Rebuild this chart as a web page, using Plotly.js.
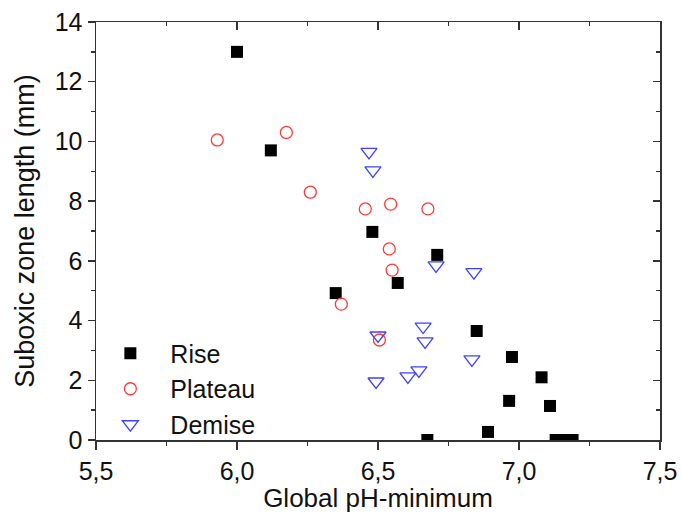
<!DOCTYPE html>
<html>
<head>
<meta charset="utf-8">
<script src="https://cdn.plot.ly/plotly-3.0.1.min.js"></script>
<style>html,body{margin:0;padding:0;background:#fff;}#chart{width:681px;height:513px;}</style>
</head>
<body>
<div id="chart"></div>
<script>
// Rise series
const riseX = [6.00, 6.12, 6.48, 6.71, 6.57, 6.35, 6.85, 6.975, 7.08, 6.965, 7.11, 6.89, 6.675, 7.13, 7.15, 7.17, 7.19];
const riseY = [13.0, 9.7, 6.97, 6.2, 5.26, 4.92, 3.65, 2.78, 2.1, 1.31, 1.14, 0.27, 0.0, 0.0, 0.0, 0.0, 0.0];
// Plateau series
const plateauX = [5.93, 6.175, 6.26, 6.455, 6.545, 6.677, 6.54, 6.55, 6.37, 6.505];
const plateauY = [10.05, 10.3, 8.3, 7.74, 7.9, 7.74, 6.4, 5.69, 4.55, 3.35];
// Demise series
const demiseX = [6.468, 6.482, 6.706, 6.84, 6.66, 6.50, 6.667, 6.833, 6.645, 6.606, 6.493];
const demiseY = [9.65, 9.03, 5.85, 5.62, 3.8, 3.5, 3.3, 2.7, 2.33, 2.13, 1.96];
// Axis ticks
const xTicks = [5.5, 6.0, 6.5, 7.0, 7.5];
const yTicks = [0, 2, 4, 6, 8, 10, 12, 14];

const FONT = 'Liberation Sans, Arial, sans-serif';
const AX = '#333333';

const traces = [
  {x: riseX, y: riseY, name: 'Rise', type: 'scatter', mode: 'markers',
   marker: {symbol: 'square', size: 12, color: '#000000', line: {width: 0}}},
  {x: plateauX, y: plateauY, name: 'Plateau', type: 'scatter', mode: 'markers',
   marker: {symbol: 'circle-open', size: 12, color: '#ff3a3a', line: {width: 1.3, color: '#ff3a3a'}}},
  {x: demiseX, y: demiseY, name: 'Demise', type: 'scatter', mode: 'markers',
   marker: {symbol: 'triangle-down-open', size: 14, color: '#4040ff', line: {width: 1.3, color: '#4040ff'}}},
  {x: [], y: [], xaxis: 'x2', yaxis: 'y2', type: 'scatter', mode: 'markers', showlegend: false, hoverinfo: 'skip'}
];

const layout = {
  width: 681, height: 513,
  margin: {l: 96, r: 21, t: 22, b: 73},
  paper_bgcolor: '#ffffff', plot_bgcolor: '#ffffff',
  separators: ', ',
  font: {family: FONT, size: 25, color: '#111111'},
  showlegend: true,
  legend: {x: -0.01, y: 0.262, xanchor: 'left', yanchor: 'top', bgcolor: 'rgba(0,0,0,0)',
           font: {family: FONT, size: 25, color: '#111111'}, itemwidth: 70, tracegroupgap: 0},
  xaxis: {
    range: [5.5, 7.5], tickvals: xTicks, tickformat: '.1f',
    ticks: 'outside', ticklen: 8, tickwidth: 1.5, tickcolor: AX,
    showline: true, linecolor: AX, linewidth: 1.5, showgrid: false, zeroline: false,
    minor: {dtick: 0.25, tick0: 5.5, ticks: 'outside', ticklen: 4, tickwidth: 1.5, tickcolor: AX, showgrid: false},
    tickfont: {family: FONT, size: 25, color: '#111111'},
    title: {text: 'Global pH-minimum', font: {family: FONT, size: 26, color: '#111111'}, standoff: 7}
  },
  yaxis: {
    range: [0, 14], tickvals: yTicks,
    ticks: 'outside', ticklen: 7, tickwidth: 1.5, tickcolor: AX,
    showline: true, linecolor: AX, linewidth: 1.5, showgrid: false, zeroline: false,
    minor: {dtick: 1, tick0: 0, ticks: 'outside', ticklen: 4, tickwidth: 1.5, tickcolor: AX, showgrid: false},
    tickfont: {family: FONT, size: 25, color: '#111111'},
    title: {text: 'Suboxic zone length (mm)', font: {family: FONT, size: 27, color: '#111111'}, standoff: 12}
  },
  xaxis2: {
    range: [5.5, 7.5], overlaying: 'x', side: 'top', anchor: 'y', tickvals: xTicks,
    ticks: 'inside', ticklen: 8, tickwidth: 1.5, tickcolor: AX, showticklabels: false,
    showline: true, linecolor: AX, linewidth: 1.5, showgrid: false, zeroline: false,
    minor: {dtick: 0.25, tick0: 5.5, ticks: 'inside', ticklen: 4, tickwidth: 1.5, tickcolor: AX, showgrid: false}
  },
  yaxis2: {
    range: [0, 14], overlaying: 'y', side: 'right', anchor: 'x', tickvals: yTicks,
    ticks: 'inside', ticklen: 7, tickwidth: 1.5, tickcolor: AX, showticklabels: false,
    showline: true, linecolor: AX, linewidth: 1.5, showgrid: false, zeroline: false,
    minor: {dtick: 1, tick0: 0, ticks: 'inside', ticklen: 4, tickwidth: 1.5, tickcolor: AX, showgrid: false}
  }
};

Plotly.newPlot('chart', traces, layout, {displayModeBar: false, staticPlot: true});
</script>
</body>
</html>
